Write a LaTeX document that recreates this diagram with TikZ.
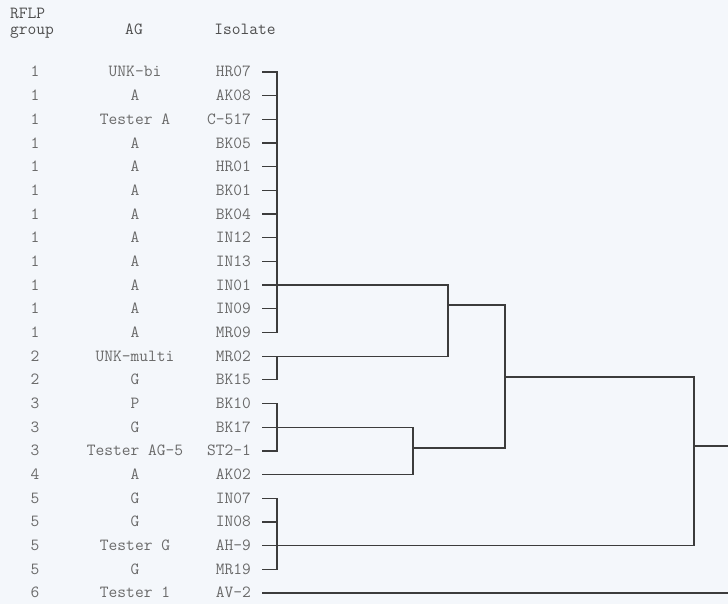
\documentclass[tikz,border=0pt]{standalone}
\usepackage{xcolor}
\definecolor{bgc}{HTML}{F4F7FB}
\definecolor{txt}{HTML}{6A6A6A}
\definecolor{hdr}{HTML}{4E4E4E}
\definecolor{ln}{HTML}{3C3C3C}
\tikzset{
  lab/.style={font=\ttfamily\fontsize{17}{17}\selectfont, text=txt, inner sep=0pt},
  hd/.style={font=\ttfamily\fontsize{17}{17}\selectfont, text=hdr, inner sep=0pt},
  dline/.style={draw=ln, line width=1.3pt, line join=miter},
}
\begin{document}
\begin{tikzpicture}[x=1pt,y=-1pt]
\fill[bgc] (0,0) rectangle (728,604);
\useasboundingbox (0,0) rectangle (728,604);
% headers
\node[hd, anchor=base west] (h1) at (10,19) {RFLP};
\node[hd, anchor=base west] (h2) at (10,35) {group};
\node[hd, anchor=base] (h3) at (134,35) {AG};
\node[hd, anchor=base] (h4) at (245,35) {Isolate};
% rows
\foreach \g/\a/\s [count=\i from 0] in {
  1/UNK-bi/HR07, 1/A/AK08, 1/Tester A/C-517, 1/A/BK05, 1/A/HR01, 1/A/BK01,
  1/A/BK04, 1/A/IN12, 1/A/IN13, 1/A/IN01, 1/A/IN09, 1/A/MR09,
  2/UNK-multi/MR02, 2/G/BK15, 3/P/BK10, 3/G/BK17, 3/Tester AG-5/ST2-1,
  4/A/AK02, 5/G/IN07, 5/G/IN08, 5/Tester G/AH-9, 5/G/MR19, 6/Tester 1/AV-2}{
  \pgfmathsetmacro\yy{72+23.68*\i}
  \node[lab, anchor=base] (g\i) at (35,\yy+5) {\g};
  \node[lab, anchor=base] (a\i) at (135,\yy+5) {\a};
  \node[lab, anchor=base east] (s\i) at (251,\yy+5) {\s};
  \coordinate (t\i) at (262,\yy);
  \coordinate (b\i) at (277,\yy);
}
% cluster 1
\draw[dline] (t0) -- (b0) -- (b11) -- (t11);
\foreach \i in {1,...,8,10} \draw[dline] (t\i) -- (b\i);
% cluster 2
\draw[dline] (t13) -- (b13) -- (b12);
% cluster 3
\draw[dline] (t14) -- (b14) -- (b16) -- (t16);
% cluster 5
\draw[dline] (t18) -- (b18) -- (b21) -- (t21);
\draw[dline] (t19) -- (b19);
% joins
\coordinate (n1) at (448,305);
\coordinate (n2) at (413,448);
\coordinate (n3) at (505,377);
\coordinate (n4) at (694,446);
\coordinate (r1) at (728,446);
\draw[dline] (t9) -- (t9 -| n1) -- (t12 -| n1) -- (t12);
\draw[dline] (t15) -- (t15 -| n2) -- (t17 -| n2) -- (t17);
\draw[dline] (n1) -- (n1 -| n3) -- (n2 -| n3) -- (n2);
\draw[dline] (n3) -- (n3 -| n4) -- (t20 -| n4) -- (t20);
\draw[dline] (n4) -- (r1);
\draw[dline] (t22) -- (t22 -| r1);
\end{tikzpicture}
\end{document}
